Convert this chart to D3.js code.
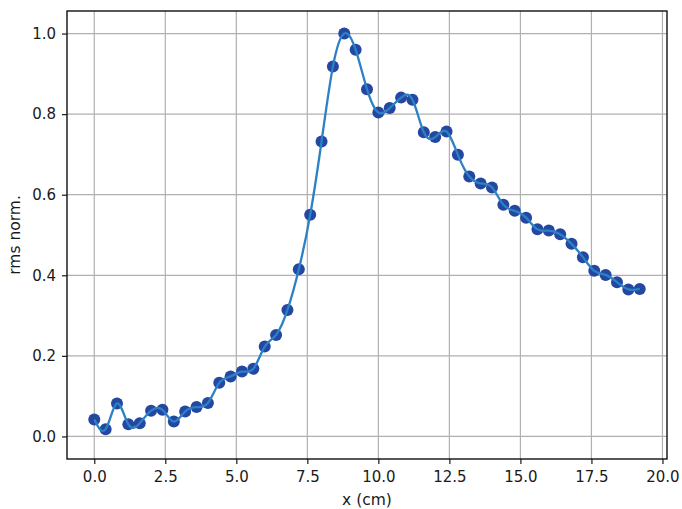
<!DOCTYPE html>
<html>
<head>
<meta charset="utf-8">
<script src="https://cdn.jsdelivr.net/npm/d3@7"></script>
<style>
  body { margin: 0; background: #fff; }
  text { font-family: "DejaVu Sans", sans-serif; }
</style>
</head>
<body>
<div id="vis"></div>
<script>
// positions along x (cm) and normalised rms values
var xs = [0.0, 0.4, 0.8, 1.2, 1.6, 2.0, 2.4, 2.8, 3.2, 3.6, 4.0, 4.4, 4.8, 5.2, 5.6,
          6.0, 6.4, 6.8, 7.2, 7.6, 8.0, 8.4, 8.8, 9.2, 9.6, 10.0, 10.4, 10.8, 11.2, 11.6,
          12.0, 12.4, 12.8, 13.2, 13.6, 14.0, 14.4, 14.8, 15.2, 15.6, 16.0, 16.4, 16.8,
          17.2, 17.6, 18.0, 18.4, 18.8, 19.2];
var rms = [0.042, 0.018, 0.082, 0.030, 0.033, 0.064, 0.066, 0.037, 0.062, 0.073, 0.083,
           0.133, 0.149, 0.161, 0.168, 0.223, 0.252, 0.314, 0.415, 0.550, 0.732, 0.918,
           1.000, 0.960, 0.862, 0.804, 0.815, 0.841, 0.836, 0.755, 0.743, 0.757, 0.699,
           0.645, 0.628, 0.618, 0.575, 0.560, 0.543, 0.514, 0.511, 0.502, 0.478, 0.445,
           0.411, 0.401, 0.383, 0.365, 0.366];
var xTicks = [0, 2.5, 5, 7.5, 10, 12.5, 15, 17.5, 20];
var yTicks = [0, 0.2, 0.4, 0.6, 0.8, 1.0];

var W = 682, H = 509;
var margin = { top: 11, right: 15, bottom: 50, left: 67 };
var width = W - margin.left - margin.right,
    height = H - margin.top - margin.bottom;

var svg = d3.select("#vis").append("svg")
    .attr("width", W)
    .attr("height", H);

var g = svg.append("g")
    .attr("transform", "translate(" + margin.left + "," + margin.top + ")");

var x = d3.scaleLinear().domain([-0.96, 20.16]).range([0, width]);
var y = d3.scaleLinear().domain([-0.056, 1.056]).range([height, 0]);

// grid
g.append("g").selectAll("line").data(xTicks).enter().append("line")
    .attr("x1", function(d) { return x(d); }).attr("x2", function(d) { return x(d); })
    .attr("y1", 0).attr("y2", height)
    .attr("stroke", "#b0b0b0").attr("stroke-width", 1.2);
g.append("g").selectAll("line").data(yTicks).enter().append("line")
    .attr("y1", function(d) { return y(d); }).attr("y2", function(d) { return y(d); })
    .attr("x1", 0).attr("x2", width)
    .attr("stroke", "#b0b0b0").attr("stroke-width", 1.2);

var data = xs.map(function(v, i) { return { x: v, y: rms[i] }; });

// points
g.append("g").selectAll("circle").data(data).enter().append("circle")
    .attr("cx", function(d) { return x(d.x); })
    .attr("cy", function(d) { return y(d.y); })
    .attr("r", 6)
    .attr("fill", "#2447a2");

// smooth line on top
var line = d3.line()
    .x(function(d) { return x(d.x); })
    .y(function(d) { return y(d.y); })
    .curve(d3.curveNatural);
g.append("path").datum(data)
    .attr("d", line)
    .attr("fill", "none")
    .attr("stroke", "#2b80c6")
    .attr("stroke-width", 2.3);

// axes
var xAxis = g.append("g")
    .attr("transform", "translate(0," + height + ")")
    .call(d3.axisBottom(x).tickValues(xTicks).tickFormat(d3.format(".1f")).tickSizeOuter(0).tickSize(5).tickPadding(7));
var yAxis = g.append("g")
    .call(d3.axisLeft(y).tickValues(yTicks).tickFormat(d3.format(".1f")).tickSizeOuter(0).tickSize(5).tickPadding(6));
[xAxis, yAxis].forEach(function(a) {
  a.select(".domain").remove();
  a.selectAll("text").style("font-size", "15px").attr("fill", "#1a1a1a");
  a.selectAll("line").attr("stroke", "#1a1a1a").attr("stroke-width", 1.2);
});

// frame
g.append("rect")
    .attr("width", width).attr("height", height)
    .attr("fill", "none").attr("stroke", "#111").attr("stroke-width", 1.4);

// labels
svg.append("text")
    .attr("x", margin.left + width / 2).attr("y", 505)
    .attr("text-anchor", "middle")
    .style("font-size", "15.5px").attr("fill", "#1a1a1a")
    .text("x (cm)");
svg.append("text")
    .attr("transform", "translate(20," + (margin.top + height / 2) + ") rotate(-90)")
    .attr("text-anchor", "middle")
    .style("font-size", "15.5px").attr("fill", "#1a1a1a")
    .text("rms norm.");
</script>
</body>
</html>
